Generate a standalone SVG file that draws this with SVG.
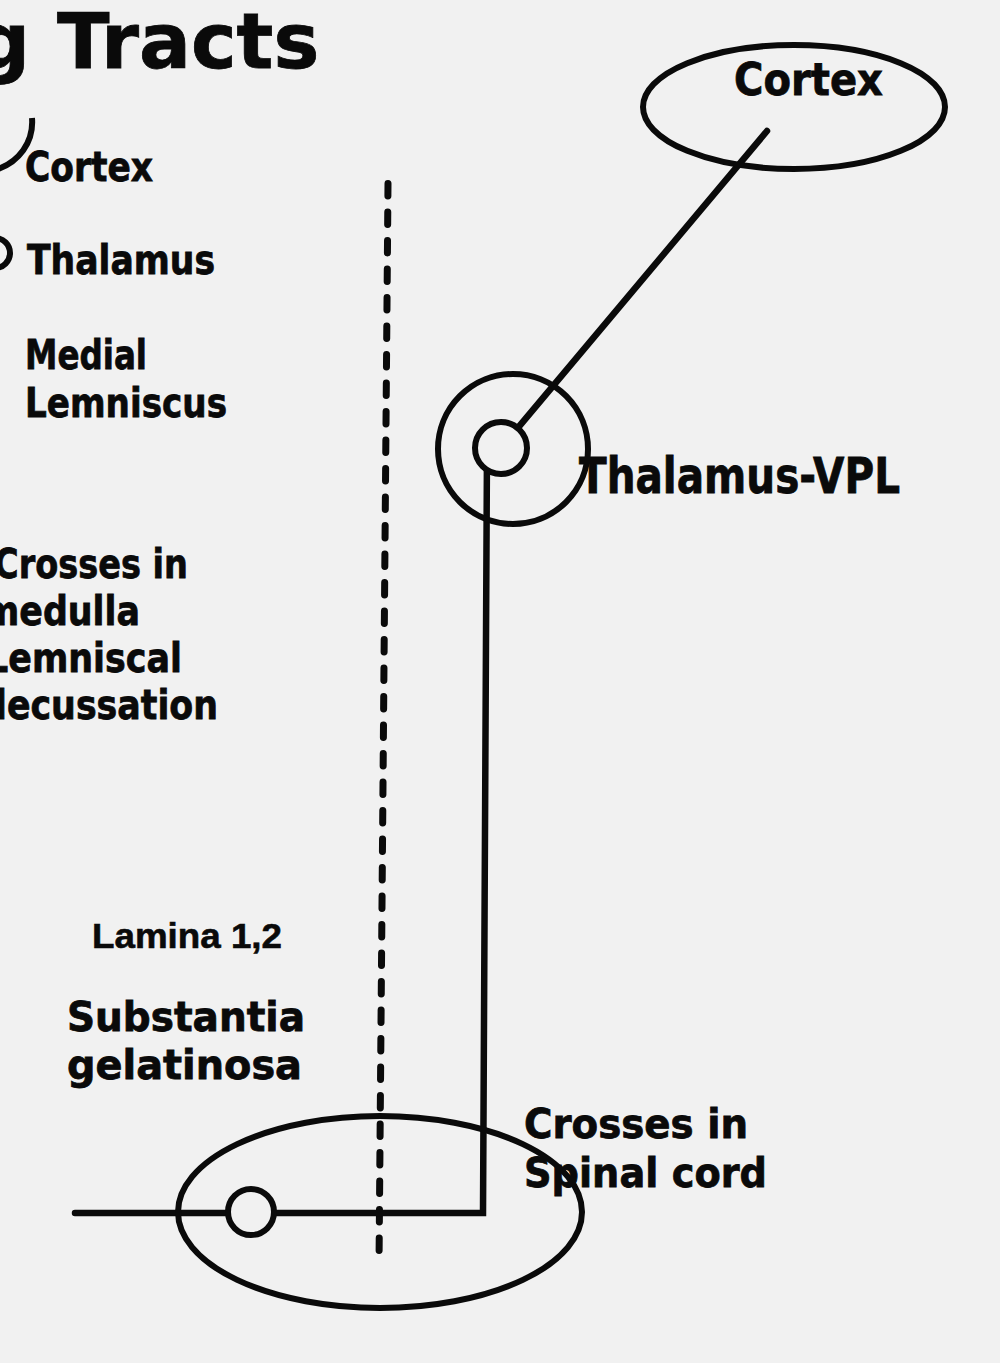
<svg xmlns="http://www.w3.org/2000/svg" width="1000" height="1363" viewBox="0 0 1000 1363">
  <style>
    .lbl { font-family: "DejaVu Sans", Verdana, sans-serif; font-weight: bold; fill: #0a0a0a; stroke: #0a0a0a; stroke-width: 0.8; }
    .arial { font-family: "Liberation Sans", Arial, sans-serif; font-weight: bold; fill: #0a0a0a; stroke: #0a0a0a; stroke-width: 0.6; }
    .ln { stroke: #0a0a0a; fill: none; stroke-width: 6.5; stroke-linecap: round; stroke-linejoin: miter; }
    .sh { stroke: #0a0a0a; fill: none; stroke-width: 6; }
    .shf { stroke: #0a0a0a; fill: #f1f1f1; stroke-width: 6; }
    .dash { stroke: #0a0a0a; fill: none; stroke-width: 7; stroke-linecap: round; stroke-dasharray: 12.5 16; }
  </style>
  <rect x="0" y="0" width="1000" height="1363" fill="#f1f1f1"/>

  <g id="title">
    <text class="lbl" x="-25" y="68" font-size="77">g Tracts</text>
  </g>

  <g id="legend">
    <path class="sh" d="M -2 169 C 18 162 34 143 32 118" stroke-width="5.5"/>
    <text class="lbl" x="25" y="181" font-size="40" textLength="128" lengthAdjust="spacingAndGlyphs">Cortex</text>
    <circle class="sh" cx="-5" cy="253" r="15" stroke-width="5.5"/>
    <text class="lbl" x="27" y="274" font-size="41" textLength="188" lengthAdjust="spacingAndGlyphs">Thalamus</text>
    <text class="lbl" x="25" y="369" font-size="40" textLength="122" lengthAdjust="spacingAndGlyphs">Medial</text>
    <text class="lbl" x="25" y="417" font-size="40" textLength="202" lengthAdjust="spacingAndGlyphs">Lemniscus</text>
    <text class="lbl" x="-6" y="578" font-size="41" textLength="194" lengthAdjust="spacingAndGlyphs">Crosses in</text>
    <text class="lbl" x="-17" y="625" font-size="41" textLength="157" lengthAdjust="spacingAndGlyphs">medulla</text>
    <text class="lbl" x="-14" y="672" font-size="41" textLength="196" lengthAdjust="spacingAndGlyphs">Lemniscal</text>
    <text class="lbl" x="-18" y="719" font-size="41" textLength="236" lengthAdjust="spacingAndGlyphs">decussation</text>
  </g>

  <g id="connectors">
    <line id="midline" class="dash" x1="388" y1="183.5" x2="379" y2="1265"/>
    <line id="cortex-thalamus" class="ln" x1="767" y1="131" x2="501" y2="448"/>
    <path id="spinal-thalamus" class="ln" d="M 487 448 L 483 1213 L 75 1213" stroke-linecap="butt"/>
  </g>

  <g id="node-cortex">
    <ellipse class="sh" cx="794" cy="107" rx="151" ry="62"/>
    <text class="lbl" x="734" y="95" font-size="44" textLength="149" lengthAdjust="spacingAndGlyphs">Cortex</text>
  </g>

  <g id="node-thalamus">
    <circle class="sh" cx="513" cy="449" r="75"/>
    <circle class="shf" cx="501" cy="448" r="26"/>
    <text class="lbl" x="579" y="493" font-size="49" textLength="321" lengthAdjust="spacingAndGlyphs">Thalamus-VPL</text>
  </g>

  <g id="node-spinal">
    <ellipse class="sh" cx="380" cy="1212" rx="202" ry="96" stroke-width="6.5"/>
    <circle class="shf" cx="251" cy="1212" r="23"/>
    <text class="arial" x="92" y="948" font-size="35" textLength="190" lengthAdjust="spacingAndGlyphs">Lamina 1,2</text>
    <text class="lbl" x="67" y="1031" font-size="41" textLength="238" lengthAdjust="spacingAndGlyphs">Substantia</text>
    <text class="lbl" x="67" y="1079" font-size="41" textLength="235" lengthAdjust="spacingAndGlyphs">gelatinosa</text>
    <text class="lbl" x="524" y="1138" font-size="41" textLength="224" lengthAdjust="spacingAndGlyphs">Crosses in</text>
    <text class="lbl" x="524" y="1187" font-size="41" textLength="243" lengthAdjust="spacingAndGlyphs">Spinal cord</text>
  </g>
</svg>
